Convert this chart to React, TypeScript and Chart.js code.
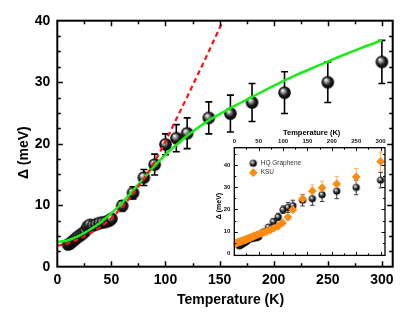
import React, { useEffect, useRef } from "react";
import { Chart, registerables } from "chart.js";
Chart.register(...registerables);

const FONT = "'Liberation Sans', Arial, Helvetica, sans-serif";

// ---- Main panel: HQ Graphene gap vs temperature ----
const hqTemp = [10, 12, 14, 16, 18, 20, 22, 24, 26, 28, 30, 33, 36, 39, 42, 45, 48, 50, 60, 70, 80, 90, 100, 110, 120, 140, 160, 180, 210, 250, 300];
const hqGap = [3.6, 3.8, 4.1, 4.4, 4.7, 5.0, 5.2, 5.5, 5.8, 6.5, 6.8, 6.7, 6.9, 7.1, 7.2, 7.3, 7.5, 7.8, 9.9, 12.0, 14.5, 16.6, 19.9, 20.9, 21.7, 24.2, 24.9, 26.7, 28.3, 30.0, 33.3];
const hqErr = [0.3, 0.3, 0.3, 0.3, 0.3, 0.3, 0.3, 0.3, 0.3, 0.4, 0.4, 0.4, 0.4, 0.4, 0.5, 0.5, 0.5, 0.6, 0.8, 1.0, 1.3, 1.7, 1.7, 2.2, 2.5, 2.6, 3.0, 3.1, 3.4, 3.3, 3.5];

// Green fit curve
const fitTemp = [0, 10, 20, 30, 40, 50, 60, 70, 80, 90, 100, 110, 120, 130, 140, 150, 160, 170, 180, 200, 220, 240, 260, 280, 300];
const fitGap = [4.0, 4.3, 5.0, 6.0, 7.2, 8.7, 10.4, 12.4, 14.4, 16.4, 18.2, 19.8, 21.3, 22.6, 23.8, 24.8, 25.8, 26.7, 27.6, 29.4, 31.1, 32.6, 34.1, 35.5, 36.8];

// Red dashed curve
const redTemp = [0, 10, 20, 30, 40, 50, 60, 70, 80, 90, 100, 110, 120, 130, 140, 150, 160];
const redGap = [3.4, 3.8, 4.5, 5.4, 6.5, 7.9, 9.7, 11.9, 14.3, 17.1, 20.4, 24.0, 27.6, 31.3, 35.0, 38.8, 42.6];

// ---- Inset: KSU data ----
const ksuTemp = [2, 4, 6, 8, 10, 12, 14, 16, 18, 20, 22, 24, 26, 28, 30, 33, 36, 39, 42, 46, 50, 55, 61, 67, 74, 82, 90, 99, 110, 120, 140, 160, 180, 210, 250, 300];
const ksuGap = [4.6, 4.8, 5.0, 5.1, 5.3, 5.5, 5.6, 5.8, 5.9, 6.1, 6.2, 6.4, 6.6, 6.8, 7.0, 7.2, 7.5, 7.8, 8.1, 8.5, 8.8, 9.2, 9.6, 10.1, 10.7, 11.6, 12.4, 13.9, 16.5, 19.9, 24.8, 28.4, 29.8, 31.6, 34.8, 41.7];
const ksuErr = [0.3, 0.3, 0.3, 0.3, 0.3, 0.3, 0.3, 0.3, 0.3, 0.3, 0.3, 0.3, 0.3, 0.3, 0.3, 0.3, 0.3, 0.3, 0.3, 0.3, 0.3, 0.3, 0.3, 0.3, 0.4, 0.4, 0.5, 0.6, 0.8, 1.2, 1.8, 2.7, 3.0, 3.4, 3.8, 4.3];

// Tick labels
const mainXTicks = [0, 50, 100, 150, 200, 250, 300];
const mainYTicks = [0, 10, 20, 30, 40];
const insetXTicks = [0, 50, 100, 150, 200, 250, 300];
const insetYTicks = [0, 10, 20, 30, 40];

const ORANGE = "#FF8A10";
const ORANGE_ERR = "#FFB35C";
const GREEN = "#16EE16";
const RED = "#FF1010";

function makeSphere(r: number): HTMLCanvasElement {
  const s = Math.ceil(r * 2 + 2);
  const c = document.createElement("canvas");
  c.width = s;
  c.height = s;
  const g = c.getContext("2d")!;
  const cx = s / 2, cy = s / 2;
  const grad = g.createRadialGradient(cx - r * 0.35, cy - r * 0.4, r * 0.05, cx, cy, r);
  grad.addColorStop(0, "#ffffff");
  grad.addColorStop(0.28, "#9a9a9a");
  grad.addColorStop(0.62, "#1e1e1e");
  grad.addColorStop(1, "#000000");
  g.fillStyle = grad;
  g.beginPath();
  g.arc(cx, cy, r, 0, Math.PI * 2);
  g.fill();
  return c;
}

type ErrSet = { xs: number[]; ys: number[]; errs: number[]; color: string; cap: number; width: number };

function makeErrorPlugin(sets: ErrSet[]) {
  return {
    id: "errorBars",
    beforeDatasetsDraw(chart: any) {
      const ctx = chart.ctx;
      const xs = chart.scales.x, ys = chart.scales.y;
      ctx.save();
      for (const s of sets) {
        ctx.strokeStyle = s.color;
        ctx.lineWidth = s.width;
        ctx.beginPath();
        s.xs.forEach((t, i) => {
          const e = s.errs[i];
          const px = xs.getPixelForValue(t);
          const pTop = ys.getPixelForValue(s.ys[i] + e);
          const pBot = ys.getPixelForValue(s.ys[i] - e);
          ctx.moveTo(px, pTop);
          ctx.lineTo(px, pBot);
          ctx.moveTo(px - s.cap, pTop);
          ctx.lineTo(px + s.cap, pTop);
          ctx.moveTo(px - s.cap, pBot);
          ctx.lineTo(px + s.cap, pBot);
        });
        ctx.stroke();
      }
      ctx.restore();
    },
  };
}

type TitleCfg = { text: string; font: string; pos: (a: any) => { x: number; y: number }; rotate?: boolean };
type FrameCfg = {
  frameWidth: number;
  tickWidth: number;
  majorLen: number;
  minorLen: number;
  xMinorStep: number;
  yMinorStep: number;
  xMajor: number[];
  yMajor: number[];
  fill?: boolean;
  titles: TitleCfg[];
  legend?: (ctx: CanvasRenderingContext2D, a: any) => void;
};

function makeFramePlugin(cfg: FrameCfg) {
  return {
    id: "frameTicks",
    beforeDraw(chart: any) {
      if (!cfg.fill) return;
      const a = chart.chartArea;
      const ctx = chart.ctx;
      ctx.save();
      ctx.fillStyle = "#ffffff";
      ctx.fillRect(a.left, a.top, a.right - a.left, a.bottom - a.top);
      ctx.restore();
    },
    afterDraw(chart: any) {
      const ctx = chart.ctx;
      const a = chart.chartArea;
      const xs = chart.scales.x, ys = chart.scales.y;
      ctx.save();
      ctx.strokeStyle = "#000";
      ctx.lineWidth = cfg.tickWidth;
      ctx.beginPath();
      const xMax = xs.max, yMax = ys.max;
      for (let v = Math.ceil(xs.min / cfg.xMinorStep) * cfg.xMinorStep; v <= xMax + 1e-6; v += cfg.xMinorStep) {
        const isMajor = cfg.xMajor.some((m) => Math.abs(m - v) < 1e-6);
        const len = isMajor ? cfg.majorLen : cfg.minorLen;
        const px = Math.round(xs.getPixelForValue(v)) + 0.5;
        if (px < a.left + 1 || px > a.right - 1) continue;
        ctx.moveTo(px, a.bottom);
        ctx.lineTo(px, a.bottom - len);
        ctx.moveTo(px, a.top);
        ctx.lineTo(px, a.top + len);
      }
      for (let v = Math.ceil(ys.min / cfg.yMinorStep) * cfg.yMinorStep; v <= yMax + 1e-6; v += cfg.yMinorStep) {
        const isMajor = cfg.yMajor.some((m) => Math.abs(m - v) < 1e-6);
        const len = isMajor ? cfg.majorLen : cfg.minorLen;
        const py = Math.round(ys.getPixelForValue(v)) + 0.5;
        if (py < a.top + 1 || py > a.bottom - 1) continue;
        ctx.moveTo(a.left, py);
        ctx.lineTo(a.left + len, py);
        ctx.moveTo(a.right, py);
        ctx.lineTo(a.right - len, py);
      }
      ctx.stroke();
      ctx.lineWidth = cfg.frameWidth;
      ctx.strokeRect(a.left, a.top, a.right - a.left, a.bottom - a.top);

      ctx.fillStyle = "#000";
      ctx.textAlign = "center";
      ctx.textBaseline = "middle";
      for (const t of cfg.titles) {
        const p = t.pos(a);
        ctx.save();
        ctx.font = t.font;
        ctx.translate(p.x, p.y);
        if (t.rotate) ctx.rotate(-Math.PI / 2);
        ctx.fillText(t.text, 0, 0);
        ctx.restore();
      }
      if (cfg.legend) cfg.legend(ctx, a);
      ctx.restore();
    },
  };
}

export default function App() {
  const mainRef = useRef<HTMLCanvasElement | null>(null);
  const insetRef = useRef<HTMLCanvasElement | null>(null);

  useEffect(() => {
    const bigSphere = makeSphere(6.3);
    const smallSphere = makeSphere(3.6);

    const hqPoints = hqTemp.map((t, i) => ({ x: t, y: hqGap[i] }));
    const fitPoints = fitTemp.map((t, i) => ({ x: t, y: fitGap[i] }));
    const redPoints = redTemp.map((t, i) => ({ x: t, y: redGap[i] }));
    const ksuPoints = ksuTemp.map((t, i) => ({ x: t, y: ksuGap[i] }));

    const mainChart = new Chart(mainRef.current!, {
      type: "scatter",
      data: {
        datasets: [
          {
            type: "line",
            label: "red",
            data: redPoints,
            borderColor: RED,
            borderWidth: 2.2,
            borderDash: [5, 3.5],
            pointRadius: 0,
            cubicInterpolationMode: "monotone",
            fill: false,
            order: 1,
          } as any,
          {
            type: "line",
            label: "fit",
            data: fitPoints,
            borderColor: GREEN,
            borderWidth: 2.5,
            pointRadius: 0,
            cubicInterpolationMode: "monotone",
            fill: false,
            order: 2,
          } as any,
          {
            type: "scatter",
            label: "HQ Graphene",
            data: hqPoints,
            pointStyle: bigSphere,
            pointRadius: 6.3,
            order: 3,
          } as any,
        ],
      },
      options: {
        responsive: false,
        animation: false,
        events: [],
        layout: { padding: { left: 0, right: 22.3, top: 20.7, bottom: 0 } },
        plugins: { legend: { display: false }, tooltip: { enabled: false } },
        scales: {
          x: {
            type: "linear",
            position: "bottom",
            min: 0,
            max: 310,
            grid: { display: false, drawTicks: false },
            border: { display: false },
            ticks: {
              includeBounds: false,
              color: "#000",
              padding: 5,
              font: { family: FONT, size: 14, weight: "bold" },
              maxRotation: 0,
            },
            afterBuildTicks: (s: any) => {
              s.ticks = mainXTicks.map((v) => ({ value: v }));
            },
            afterFit: (s: any) => {
              s.height = 52.3;
            },
          },
          y: {
            type: "linear",
            position: "left",
            min: 0,
            max: 40,
            grid: { display: false, drawTicks: false },
            border: { display: false },
            ticks: {
              includeBounds: false,
              color: "#000",
              padding: 7,
              font: { family: FONT, size: 14, weight: "bold" },
            },
            afterBuildTicks: (s: any) => {
              s.ticks = mainYTicks.map((v) => ({ value: v }));
            },
            afterFit: (s: any) => {
              s.width = 57.3;
            },
          },
        },
      } as any,
      plugins: [
        makeErrorPlugin([
          { xs: hqTemp, ys: hqGap, errs: hqErr, color: "#000", cap: 3.5, width: 1.6 },
        ]),
        makeFramePlugin({
          frameWidth: 2,
          tickWidth: 1.5,
          majorLen: 5.5,
          minorLen: 3.5,
          xMinorStep: 25,
          yMinorStep: 2.5,
          xMajor: mainXTicks,
          yMajor: mainYTicks,
          titles: [
            {
              text: "Temperature (K)",
              font: `bold 14px ${FONT}`,
              pos: (a) => ({ x: (a.left + a.right) / 2 + 5.5, y: a.bottom + 33.5 }),
            },
            {
              text: "\u0394 (meV)",
              font: `bold 14px ${FONT}`,
              rotate: true,
              pos: (a) => ({ x: 24, y: (a.top + a.bottom) / 2 + 9 }),
            },
          ],
        }),
      ] as any,
    });

    const insetChart = new Chart(insetRef.current!, {
      type: "scatter",
      data: {
        datasets: [
          {
            label: "KSU",
            data: ksuPoints,
            pointStyle: "rectRot",
            pointRadius: 4.4,
            backgroundColor: ORANGE,
            borderColor: ORANGE,
            borderWidth: 0,
            order: 1,
          } as any,
          {
            label: "HQ Graphene",
            data: hqPoints,
            pointStyle: smallSphere,
            pointRadius: 3.6,
            order: 2,
          } as any,
        ],
      },
      options: {
        responsive: false,
        animation: false,
        events: [],
        layout: { padding: { left: 0, right: 7, top: 0, bottom: 3.5 } },
        plugins: { legend: { display: false }, tooltip: { enabled: false } },
        scales: {
          x: {
            type: "linear",
            position: "top",
            min: 0,
            max: 309,
            grid: { display: false, drawTicks: false },
            border: { display: false },
            ticks: {
              includeBounds: false,
              color: "#111",
              padding: 3,
              font: { family: FONT, size: 6, weight: "bold" },
              maxRotation: 0,
            },
            afterBuildTicks: (s: any) => {
              s.ticks = insetXTicks.map((v) => ({ value: v }));
            },
            afterFit: (s: any) => {
              s.height = 29.7;
            },
          },
          y: {
            type: "linear",
            position: "left",
            min: -0.8,
            max: 48,
            grid: { display: false, drawTicks: false },
            border: { display: false },
            ticks: {
              includeBounds: false,
              color: "#111",
              padding: 4,
              font: { family: FONT, size: 6, weight: "bold" },
            },
            afterBuildTicks: (s: any) => {
              s.ticks = insetYTicks.map((v) => ({ value: v }));
            },
            afterFit: (s: any) => {
              s.width = 34.3;
            },
          },
        },
      } as any,
      plugins: [
        makeErrorPlugin([
          { xs: hqTemp, ys: hqGap, errs: hqErr, color: "#3a3a3a", cap: 2.2, width: 1 },
          { xs: ksuTemp, ys: ksuGap, errs: ksuErr, color: ORANGE_ERR, cap: 2.2, width: 1 },
        ]),
        makeFramePlugin({
          frameWidth: 1.3,
          tickWidth: 1,
          majorLen: 3.5,
          minorLen: 2,
          xMinorStep: 25,
          yMinorStep: 5,
          xMajor: insetXTicks,
          yMajor: insetYTicks,
          fill: true,
          titles: [
            {
              text: "Temperature (K)",
              font: `bold 7.5px ${FONT}`,
              pos: (a) => ({ x: (a.left + a.right) / 2 + 2, y: a.top - 15.2 }),
            },
            {
              text: "\u0394 (meV)",
              font: `bold 7px ${FONT}`,
              rotate: true,
              pos: (a) => ({ x: a.left - 14.8, y: (a.top + a.bottom) / 2 + 4.5 }),
            },
          ],
          legend: (ctx, a) => {
            const mx = a.left + 19;
            const y1 = a.top + 15.6;
            const y2 = a.top + 25;
            ctx.drawImage(smallSphere, mx - smallSphere.width / 2, y1 - smallSphere.height / 2);
            ctx.fillStyle = ORANGE;
            ctx.beginPath();
            ctx.moveTo(mx, y2 - 4.4);
            ctx.lineTo(mx + 4.4, y2);
            ctx.lineTo(mx, y2 + 4.4);
            ctx.lineTo(mx - 4.4, y2);
            ctx.closePath();
            ctx.fill();
            ctx.fillStyle = "#333";
            ctx.font = `6.5px ${FONT}`;
            ctx.textAlign = "left";
            ctx.textBaseline = "middle";
            ctx.fillText("HQ Graphene", mx + 7.4, y1);
            ctx.fillText("KSU", mx + 7.4, y2);
          },
        }),
      ] as any,
    });

    return () => {
      mainChart.destroy();
      insetChart.destroy();
    };
  }, []);

  return (
    <div style={{ position: "absolute", left: 0, top: 0, width: 415, height: 319, background: "#fff" }}>
      <canvas
        ref={mainRef}
        width={415}
        height={319}
        style={{ position: "absolute", left: 0, top: 0, width: 415, height: 319 }}
      />
      <canvas
        ref={insetRef}
        width={192}
        height={145}
        style={{ position: "absolute", left: 200, top: 118, width: 192, height: 145 }}
      />
    </div>
  );
}
